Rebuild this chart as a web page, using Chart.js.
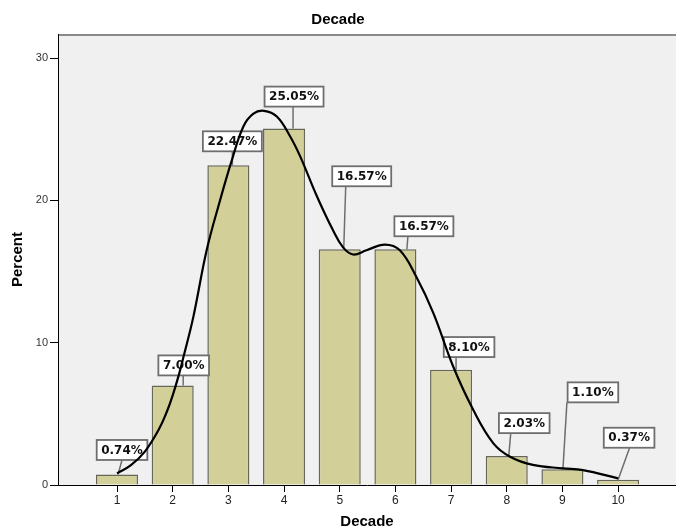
<!DOCTYPE html>
<html>
<head>
<meta charset="utf-8">
<script src="https://cdn.jsdelivr.net/npm/chart.js@4/dist/chart.umd.min.js"></script>
<style>
  html, body { margin: 0; padding: 0; background: #ffffff; }
  #wrap { width: 676px; height: 531px; }
</style>
</head>
<body>
<div id="wrap"><canvas id="c" width="676" height="531"></canvas></div>
<script>
// ---- data ----
const categories = [1, 2, 3, 4, 5, 6, 7, 8, 9, 10];
const percents = [0.74, 7.00, 22.47, 25.05, 16.57, 16.57, 8.10, 2.03, 1.10, 0.37];
const curveX = [1.00, 1.25, 1.50, 1.75, 1.90, 2.00, 2.10, 2.20, 2.37, 2.61, 2.85, 3.06, 3.27, 3.45, 3.64, 3.87, 4.11, 4.29, 4.59, 4.88, 5.06, 5.24, 5.48, 5.81, 6.08, 6.38, 6.68, 7.04, 7.40, 7.76, 8.06, 8.47, 9.01, 9.37, 10.00];
const curveY = [0.82, 1.40, 2.35, 3.90, 5.20, 6.30, 7.60, 9.10, 11.8, 16.5, 20.0, 22.8, 25.2, 26.1, 26.3, 25.9, 24.5, 23.1, 20.3, 17.9, 16.7, 16.2, 16.5, 16.9, 16.5, 14.6, 12.1, 8.31, 5.27, 2.93, 1.99, 1.41, 1.17, 1.05, 0.47];
const yTicks = [0, 10, 20, 30];
const xTicks = categories;
const titleText = 'Decade';
const xTitle = 'Decade';
const yTitle = 'Percent';

// label placement (pixels, relative to bar top centre): [boxDx, boxBottomDy, leaderTopDx, leaderBottomDx]
const labelLayout = [
  [5, -14.5, 5, 1],
  [11, -10, 10.5, 10.5],
  [4, -14, 4, 4],
  [10, -22, 9, 9],
  [22, -63, 6, 4],
  [28.5, -13, 12.5, 11.5],
  [18, -12.7, 5, 5],
  [17.5, -23, 4, 2],
  [30.5, -67, 4.5, 0.5],
  [11, -32, 11.5, 0]
];

const barData = categories.map((c, i) => ({ x: c, y: percents[i] }));
const lineData = curveX.map((x, i) => ({ x: x, y: curveY[i] }));

const bgPlugin = {
  id: 'bg',
  beforeDraw(chart) {
    const { ctx, chartArea: a } = chart;
    ctx.save();
    ctx.fillStyle = '#f0f0f0';
    ctx.fillRect(a.left, a.top, a.right - a.left, a.bottom - a.top);
    ctx.strokeStyle = '#8a8a8a';
    ctx.lineWidth = 2;
    ctx.beginPath();
    ctx.moveTo(a.left, a.top + 1);
    ctx.lineTo(a.right, a.top + 1);
    ctx.stroke();
    ctx.restore();
  }
};

const labelPlugin = {
  id: 'boxLabels',
  afterDatasetDraw(chart, args) {
    if (args.meta.type !== 'bar') return;
    const { ctx } = chart;
    const xs = chart.scales.x, ys = chart.scales.y;
    ctx.save();
    ctx.font = 'bold 12px "DejaVu Sans"';
    ctx.textAlign = 'center';
    ctx.textBaseline = 'middle';
    percents.forEach((v, i) => {
      const xc = xs.getPixelForValue(categories[i]);
      const yt = ys.getPixelForValue(v);
      const [dx, dy, ltx, lbx] = labelLayout[i];
      const text = v.toFixed(2) + '%';
      const w = ctx.measureText(text).width + 9;
      const h = 20;
      const bx = xc + dx - w / 2;
      const bb = yt + dy;
      ctx.strokeStyle = '#6e6e6e';
      ctx.lineWidth = 1.5;
      ctx.beginPath();
      ctx.moveTo(xc + ltx, bb);
      ctx.lineTo(xc + lbx, yt);
      ctx.stroke();
      ctx.fillStyle = '#ffffff';
      ctx.fillRect(bx, bb - h, w, h);
      ctx.strokeStyle = '#6e6e6e';
      ctx.lineWidth = 1.8;
      ctx.strokeRect(bx, bb - h, w, h);
      ctx.fillStyle = '#111111';
      ctx.fillText(text, xc + dx, bb - h / 2 + 0.5);
    });
    ctx.restore();
  }
};

new Chart(document.getElementById('c'), {
  type: 'bar',
  data: {
    datasets: [
      {
        type: 'line',
        data: lineData,
        borderColor: '#000000',
        borderWidth: 2.2,
        pointRadius: 0,
        fill: false,
        tension: 0.4,
        order: 0
      },
      {
        type: 'bar',
        data: barData,
        backgroundColor: '#d3cf98',
        borderColor: '#66665a',
        borderWidth: 1.5,
        categoryPercentage: 1,
        barPercentage: 0.755,
        order: 1
      }
    ]
  },
  options: {
    responsive: false,
    animation: false,
    devicePixelRatio: 1,
    layout: { padding: { left: 0, right: 0, top: 0, bottom: 0 } },
    plugins: {
      legend: { display: false },
      tooltip: { enabled: false },
      title: {
        display: true,
        text: titleText,
        color: '#000000',
        font: { family: '"Liberation Sans", Arial, sans-serif', size: 15, weight: 'bold' },
        padding: { top: 11, bottom: 5 }
      }
    },
    scales: {
      x: {
        type: 'linear',
        min: -0.06,
        max: 11.04,
        offset: false,
        afterBuildTicks(scale) { scale.ticks = xTicks.map(v => ({ value: v })); },
        afterFit(scale) { scale.height = 46; },
        grid: { display: true, drawOnChartArea: false, drawTicks: true, tickLength: 7, color: '#000000', offset: false },
        border: { display: true, color: '#000000', width: 1 },
        ticks: {
          color: '#222222',
          padding: 1,
          maxRotation: 0,
          font: { family: '"Liberation Sans", Arial, sans-serif', size: 12 },
          callback: (v) => String(v)
        },
        title: {
          display: true,
          text: xTitle,
          color: '#000000',
          font: { family: '"Liberation Sans", Arial, sans-serif', size: 15, weight: 'bold' },
          padding: { top: 0, bottom: 0 }
        }
      },
      y: {
        type: 'linear',
        min: 0,
        max: 31.7,
        afterBuildTicks(scale) { scale.ticks = yTicks.map(v => ({ value: v })); },
        afterFit(scale) { scale.width = 58; },
        grid: { display: true, drawOnChartArea: false, drawTicks: true, tickLength: 8, color: '#000000' },
        border: { display: true, color: '#000000', width: 1 },
        ticks: {
          color: '#333333',
          padding: 2,
          font: { family: '"Liberation Sans", Arial, sans-serif', size: 11 },
          callback: (v) => String(v)
        },
        title: {
          display: true,
          text: yTitle,
          color: '#000000',
          font: { family: '"Liberation Sans", Arial, sans-serif', size: 15, weight: 'bold' },
          padding: { top: 9, bottom: 0 }
        }
      }
    }
  },
  plugins: [bgPlugin, labelPlugin]
});
</script>
</body>
</html>
